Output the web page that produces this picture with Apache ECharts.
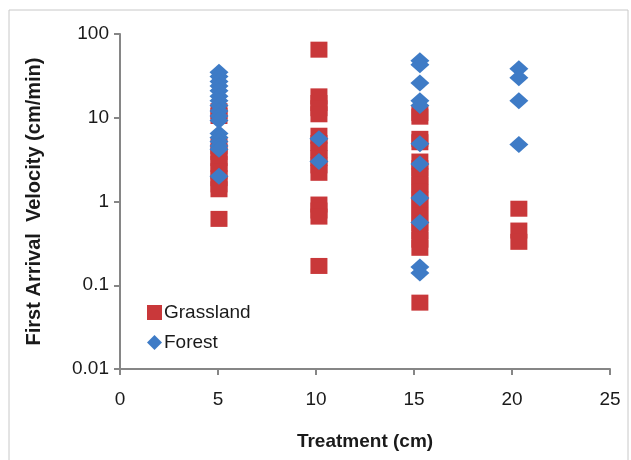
<!DOCTYPE html>
<html>
<head>
<meta charset="utf-8">
<script src="https://cdn.jsdelivr.net/npm/echarts@6/dist/echarts.min.js"></script>
<style>
  html, body { margin: 0; padding: 0; background: #fff; }
  #chart { width: 631px; height: 460px; }
</style>
</head>
<body>
<div id="chart"></div>
<script>
// treatment positions (cm) as plotted
var treatX = [5.05, 10.15, 15.3, 20.35];

// Grassland first arrival velocities (cm/min) per treatment
var grass5 = [12, 10.5, 4.6, 3.9, 3.3, 2.8, 2.3, 1.9, 1.6, 1.4, 0.62];
var grass10 = [65, 18, 15, 13, 11, 6.1, 5, 4.1, 3.3, 2.7, 2.2, 0.92, 0.78, 0.66, 0.17];
var grass15 = [11.4, 10.3, 5.6, 5.1, 3.0, 2.5, 2.0, 1.6, 1.3, 1.05, 0.85, 0.68, 0.55, 0.44, 0.35, 0.28, 0.062];
var grass20 = [0.82, 0.45, 0.33];

// Forest first arrival velocities (cm/min) per treatment
var forest5 = [35, 31, 27, 24, 21, 18, 16, 14, 12, 10.5, 9.3, 6.5, 5.8, 5.2, 4.6, 4.2, 2];
var forest10 = [5.6, 3.0];
var forest15 = [48, 43, 26, 16, 14, 4.9, 2.8, 1.1, 0.56, 0.165, 0.14];
var forest20 = [38.5, 30, 16, 4.8];

var yTicks = [0.01, 0.1, 1, 10, 100];
var xTicks = [0, 5, 10, 15, 20, 25];

function pairs(groups) {
    var out = [];
    groups.forEach(function (g, i) {
        g.forEach(function (v) { out.push([treatX[i], v]); });
    });
    return out;
}

var chart = echarts.init(document.getElementById('chart'));
var axisColor = '#868686';
var option = {
    backgroundColor: '#fff',
    animation: false,
    graphic: [{
        type: 'rect',
        shape: { x: 9, y: 10, width: 619, height: 460 },
        style: { fill: 'none', stroke: '#c8c8c8', lineWidth: 1 }
    }],
    grid: { left: 120, right: 21, top: 34, bottom: 91 },
    legend: {
        orient: 'vertical',
        left: 142,
        top: 298,
        itemWidth: 15,
        itemHeight: 15,
        itemGap: 11,
        textStyle: { fontFamily: 'Liberation Sans', fontSize: 19, color: '#1a1a1a', padding: [0, 0, 0, -3] },
        data: [
            { name: 'Grassland', icon: 'rect' },
            { name: 'Forest', icon: 'diamond' }
        ]
    },
    xAxis: {
        type: 'value',
        min: xTicks[0],
        max: xTicks[xTicks.length - 1],
        interval: 5,
        name: 'Treatment (cm)',
        nameLocation: 'middle',
        nameGap: 63,
        nameTextStyle: { fontFamily: 'Liberation Sans', fontSize: 19, fontWeight: 'bold', color: '#1a1a1a' },
        axisLine: { lineStyle: { color: axisColor, width: 2 } },
        axisTick: { show: true, inside: false, length: 6, lineStyle: { color: axisColor, width: 2 } },
        axisLabel: { fontFamily: 'Liberation Sans', fontSize: 19, color: '#1a1a1a', margin: 21 },
        splitLine: { show: false }
    },
    yAxis: {
        type: 'log',
        logBase: 10,
        min: yTicks[0],
        max: yTicks[yTicks.length - 1],
        name: 'First Arrival  Velocity (cm/min)',
        nameLocation: 'middle',
        nameGap: 76,
        nameTextStyle: { fontFamily: 'Liberation Sans', fontSize: 20, fontWeight: 'bold', color: '#1a1a1a' },
        axisLine: { show: true, lineStyle: { color: axisColor, width: 2 } },
        axisTick: { show: true, inside: false, length: 6, lineStyle: { color: axisColor, width: 2 } },
        axisLabel: {
            fontFamily: 'Liberation Sans', fontSize: 19, color: '#1a1a1a', margin: 11,
            formatter: function (v) {
                for (var i = 0; i < yTicks.length; i++) {
                    if (Math.abs(Math.log10(v) - Math.log10(yTicks[i])) < 1e-6) return String(yTicks[i]);
                }
                return '';
            }
        },
        splitLine: { show: false }
    },
    series: [
        {
            name: 'Grassland',
            type: 'scatter',
            symbol: 'rect',
            symbolSize: [17, 16],
            itemStyle: { color: '#c9383a', opacity: 1 },
            data: pairs([grass5, grass10, grass15, grass20])
        },
        {
            name: 'Forest',
            type: 'scatter',
            symbol: 'diamond',
            symbolSize: [19, 17],
            itemStyle: { color: '#3e7bc6', opacity: 1 },
            data: pairs([forest5, forest10, forest15, forest20])
        }
    ]
};
chart.setOption(option);
window.addEventListener('resize', chart.resize);
</script>
</body>
</html>
